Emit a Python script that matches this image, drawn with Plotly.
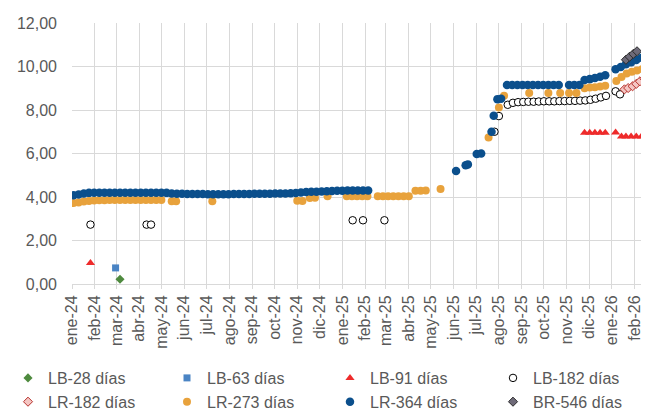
import plotly.graph_objects as go

# ---------------- data ----------------
month_ticks = ["2024-01-01","2024-02-01","2024-03-01","2024-04-01","2024-05-01","2024-06-01",
               "2024-07-01","2024-08-01","2024-09-01","2024-10-01","2024-11-01","2024-12-01",
               "2025-01-01","2025-02-01","2025-03-01","2025-04-01","2025-05-01","2025-06-01",
               "2025-07-01","2025-08-01","2025-09-01","2025-10-01","2025-11-01","2025-12-01",
               "2026-01-01","2026-02-01"]
month_labels = ["ene-24","feb-24","mar-24","abr-24","may-24","jun-24","jul-24","ago-24","sep-24",
                "oct-24","nov-24","dic-24","ene-25","feb-25","mar-25","abr-25","may-25","jun-25",
                "jul-25","ago-25","sep-25","oct-25","nov-25","dic-25","ene-26","feb-26"]

lb28_dates = ["2024-03-06"]
lb28_vals = [0.22]

lb63_dates = ["2024-02-29"]
lb63_vals = [0.74]

lb91_dates = ["2024-01-26",
              "2025-11-25","2025-12-02","2025-12-09","2025-12-16","2025-12-23",
              "2026-01-06","2026-01-14","2026-01-20","2026-01-27","2026-02-03","2026-02-10",
              "2026-02-17","2026-02-24"]
lb91_vals = [0.97,
             6.95, 6.95, 6.95, 6.95, 6.95,
             6.97, 6.78, 6.78, 6.78, 6.78, 6.78,
             6.78, 6.78]

lb182_dates = ["2024-01-26","2024-04-11","2024-04-17",
               "2025-01-15","2025-01-29","2025-02-27",
               "2025-07-26","2025-08-01","2025-08-13",
               "2025-08-20","2025-08-27","2025-09-03","2025-09-10","2025-09-17","2025-09-24",
               "2025-10-01","2025-10-08","2025-10-15","2025-10-22","2025-10-29","2025-11-05",
               "2025-11-12","2025-11-19","2025-11-26","2025-12-03","2025-12-10","2025-12-17",
               "2025-12-24","2026-01-06","2026-01-12"]
lb182_vals = [2.73, 2.73, 2.73,
              2.93, 2.93, 2.93,
              7.00, 7.72, 8.24,
              8.33, 8.36, 8.37, 8.38, 8.38, 8.39,
              8.40, 8.40, 8.40, 8.41, 8.41, 8.42,
              8.42, 8.43, 8.44, 8.47, 8.52, 8.58,
              8.65, 8.86, 8.72]

lr182_dates = ["2026-01-18","2026-01-23","2026-01-29","2026-02-03","2026-02-08",
               "2026-02-14","2026-02-20","2026-02-25"]
lr182_vals = [8.95, 9.01, 9.09, 9.20, 9.32, 9.44, 9.58, 9.80]

lr273_dates = ["2024-01-03","2024-01-10","2024-01-17","2024-01-24","2024-01-31",
               "2024-02-07","2024-02-14","2024-02-21","2024-02-28",
               "2024-03-06","2024-03-13","2024-03-20","2024-03-27",
               "2024-04-03","2024-04-10","2024-04-17","2024-04-24","2024-05-01",
               "2024-05-15","2024-05-21","2024-07-09",
               "2024-11-01","2024-11-08","2024-11-18","2024-11-25","2024-12-12",
               "2025-01-07","2025-01-14","2025-01-21","2025-01-28","2025-02-04",
               "2025-02-18","2025-02-25","2025-03-04","2025-03-11","2025-03-18","2025-03-25",
               "2025-04-01","2025-04-10","2025-04-17","2025-04-24","2025-05-14",
               "2025-07-18","2025-08-01","2025-08-08",
               "2025-09-11","2025-10-07","2025-10-23","2025-11-04","2025-11-14",
               "2025-11-25","2025-12-02","2025-12-09","2025-12-16","2025-12-23",
               "2026-01-07","2026-01-14","2026-01-21","2026-01-28","2026-02-04",
               "2026-02-11","2026-02-18","2026-02-25"]
lr273_vals = [3.72, 3.75, 3.79, 3.82, 3.84,
              3.85, 3.85, 3.86, 3.86,
              3.86, 3.86, 3.86, 3.86,
              3.86, 3.86, 3.86, 3.86, 3.86,
              3.80, 3.81, 3.80,
              3.83, 3.82, 3.95, 3.96, 4.03,
              4.03, 4.03, 4.03, 4.03, 4.03,
              4.03, 4.03, 4.03, 4.03, 4.03, 4.03,
              4.03, 4.29, 4.29, 4.30, 4.37,
              6.74, 8.12, 8.66,
              8.78, 8.78, 8.78, 8.78, 8.78,
              9.00, 9.03, 9.05, 9.08, 9.12,
              9.33, 9.52, 9.68, 9.76, 9.82,
              9.88, 9.96, 10.02]

lr364_dates = ["2024-01-03","2024-01-10","2024-01-17","2024-01-24","2024-01-31",
               "2024-02-07","2024-02-14","2024-02-21","2024-02-28",
               "2024-03-06","2024-03-13","2024-03-20","2024-03-27",
               "2024-04-03","2024-04-10","2024-04-17","2024-04-24",
               "2024-05-01","2024-05-08","2024-05-15","2024-05-22","2024-05-29",
               "2024-06-05","2024-06-12","2024-06-19","2024-06-26",
               "2024-07-03","2024-07-10","2024-07-17","2024-07-24","2024-07-31",
               "2024-08-07","2024-08-14","2024-08-21","2024-08-28",
               "2024-09-04","2024-09-11","2024-09-18","2024-09-25",
               "2024-10-02","2024-10-09","2024-10-16","2024-10-23","2024-10-30",
               "2024-11-06","2024-11-13","2024-11-20","2024-11-27",
               "2024-12-04","2024-12-11","2024-12-18","2024-12-25",
               "2025-01-01","2025-01-08","2025-01-15","2025-01-22","2025-01-29",
               "2025-02-05",
               "2025-06-04","2025-06-17","2025-06-20","2025-07-02","2025-07-08",
               "2025-07-22","2025-07-25","2025-07-30","2025-08-04",
               "2025-08-12","2025-08-19","2025-08-26","2025-09-02","2025-09-09","2025-09-16",
               "2025-09-23","2025-09-30","2025-10-07","2025-10-14","2025-10-21",
               "2025-11-04","2025-11-11","2025-11-18",
               "2025-11-25","2025-12-02","2025-12-09","2025-12-16","2025-12-23",
               "2026-01-06","2026-01-13","2026-01-20","2026-01-27","2026-02-03",
               "2026-02-10","2026-02-17","2026-02-24"]
lr364_vals = [4.08, 4.12, 4.16, 4.19, 4.20,
              4.20, 4.20, 4.20, 4.20,
              4.20, 4.20, 4.20, 4.20,
              4.20, 4.20, 4.20, 4.20,
              4.20, 4.19, 4.16, 4.15, 4.15,
              4.14, 4.14, 4.14, 4.14,
              4.13, 4.13, 4.13, 4.13, 4.13,
              4.14, 4.14, 4.14, 4.14,
              4.15, 4.15, 4.15, 4.15,
              4.16, 4.16, 4.16, 4.17, 4.18,
              4.21, 4.23, 4.24, 4.24,
              4.25, 4.26, 4.28, 4.29,
              4.29, 4.30, 4.30, 4.30, 4.30,
              4.30,
              5.20, 5.46, 5.50, 5.98, 6.00,
              7.00, 7.74, 8.50, 8.52,
              9.15, 9.15, 9.15, 9.15, 9.15, 9.15,
              9.15, 9.15, 9.15, 9.15, 9.15,
              9.15, 9.15, 9.15,
              9.38, 9.42, 9.47, 9.53, 9.60,
              9.87, 9.98, 10.10, 10.20, 10.30,
              10.40, 10.52, 10.65]

br546_dates = ["2026-01-20","2026-01-25","2026-01-30","2026-02-04"]
br546_vals = [10.31, 10.45, 10.58, 10.70]

# ---------------- figure ----------------
FONT = "Liberation Sans, Arial, sans-serif"
TXT = "#595959"
GRID = "#d9d9d9"

fig = go.Figure()

def add(name, x, y, symbol, size, color, legend, line_color=None, line_width=0):
    fig.add_trace(go.Scatter(
        x=x, y=y, mode="markers", name=name, legend=legend,
        marker=dict(symbol=symbol, size=size, color=color,
                    line=dict(color=line_color or color, width=line_width)),
        hoverinfo="x+y+name"))

add("LB-28 días", lb28_dates, lb28_vals, "diamond", 7, "#4e8a3e", "legend")
add("LB-63 días", lb63_dates, lb63_vals, "square", 7, "#4a84c4", "legend2")
add("LB-91 días", lb91_dates, lb91_vals, "triangle-up", 8, "#ee2b2b", "legend3")
add("LB-182 días", lb182_dates, lb182_vals, "circle", 7.5, "#ffffff", "legend4", "#000000", 1)
add("LR-182 días", lr182_dates, lr182_vals, "diamond", 7, "#f4c6c3", "legend", "#b8322d", 1)
add("LR-273 días", lr273_dates, lr273_vals, "circle", 8, "#e8a23c", "legend2")
add("LR-364 días", lr364_dates, lr364_vals, "circle", 8.5, "#0b4f8c", "legend3")
add("BR-546 días", br546_dates, br546_vals, "diamond", 7, "#6e6a78", "legend4", "#2b2b2b", 1)

leg_top = 1 - 353 / 414
def leg(px):
    return dict(orientation="v", xref="container", yref="container",
                x=px / 649, xanchor="left", y=leg_top, yanchor="top",
                font=dict(family=FONT, size=16, color=TXT),
                tracegroupgap=0, itemwidth=30, bgcolor="rgba(0,0,0,0)")

fig.update_layout(
    width=649, height=414,
    margin=dict(l=64, r=3, t=15, b=138, autoexpand=False),
    paper_bgcolor="white", plot_bgcolor="white",
    separators=",.",
    font=dict(family=FONT, size=16, color=TXT),
    showlegend=True,
    legend=leg(0), legend2=leg(159), legend3=leg(322), legend4=leg(485),
)

fig.update_xaxes(
    type="date", range=["2024-01-01", "2026-02-27"],
    tickmode="array", tickvals=month_ticks, ticktext=month_labels,
    tickangle=-90, tickfont=dict(family=FONT, size=16, color=TXT),
    showgrid=True, gridcolor=GRID, gridwidth=1,
    showline=True, linecolor=GRID, linewidth=1,
    ticks="outside", ticklen=4, tickcolor=GRID,
    zeroline=False,
)
fig.update_yaxes(
    range=[0, 12], tickmode="linear", tick0=0, dtick=2, tickformat=".2f",
    tickfont=dict(family=FONT, size=16, color=TXT),
    showgrid=True, gridcolor=GRID, gridwidth=1,
    showline=False, zeroline=False, ticks="", ticklabelstandoff=14,
)

fig.write_html("out.html")
